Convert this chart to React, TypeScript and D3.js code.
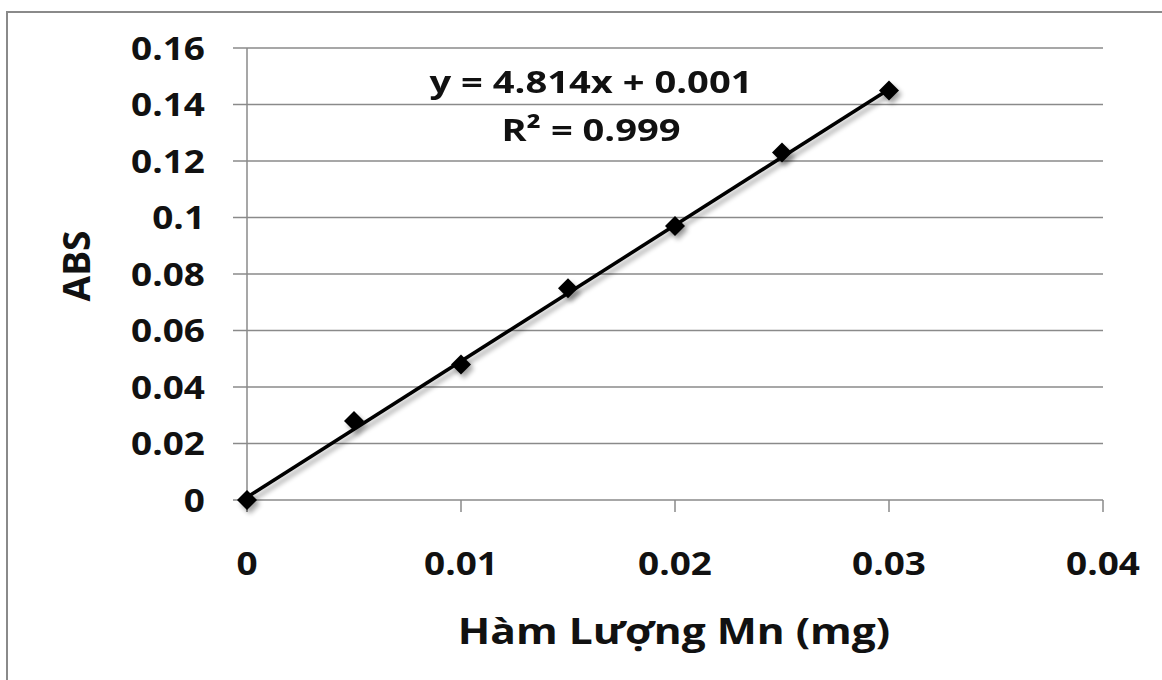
import * as d3 from 'd3';
import React, { useRef, useEffect } from 'react';

const massMn = [0, 0.005, 0.01, 0.015, 0.02, 0.025, 0.03];
const absValues = [0, 0.028, 0.048, 0.075, 0.097, 0.123, 0.145];
const xTicks = [0, 0.01, 0.02, 0.03, 0.04];
const yTicks = [0, 0.02, 0.04, 0.06, 0.08, 0.1, 0.12, 0.14, 0.16];
const slope = 4.814;
const intercept = 0.001;
const equationLines = ['y = 4.814x + 0.001', 'R² = 0.999'];
const xTitle = 'Hàm Lượng Mn (mg)';
const yTitle = 'ABS';

function App() {
    const ref = useRef(null);
    const width = 1162;
    const height = 680;

    useEffect(() => {
        const svg = d3.select(ref.current);
        svg.selectAll('*').remove();

        const font = '"Open Sans", sans-serif';
        const grid = '#8a8a8a';

        const x = d3.scaleLinear().domain([0, 0.04]).range([247, 1103]);
        const y = d3.scaleLinear().domain([0, 0.16]).range([500, 48]);
        const fmt = d3.format('~g');

        svg.append('rect')
            .attr('width', width).attr('height', height).attr('fill', 'white');

        // outer chart border (right/bottom fall outside the picture)
        svg.append('rect')
            .attr('x', 7).attr('y', 12)
            .attr('width', width + 20).attr('height', height + 20)
            .attr('fill', 'none').attr('stroke', grid).attr('stroke-width', 2);

        const defs = svg.append('defs');
        const f = defs.append('filter').attr('id', 'shadow')
            .attr('x', '-20%').attr('y', '-20%').attr('width', '140%').attr('height', '140%');
        f.append('feGaussianBlur').attr('in', 'SourceAlpha').attr('stdDeviation', 2.5);
        f.append('feOffset').attr('dx', 3).attr('dy', 4).attr('result', 'b');
        f.append('feComponentTransfer').append('feFuncA').attr('type', 'linear').attr('slope', 0.35);
        const m = f.append('feMerge');
        m.append('feMergeNode');
        m.append('feMergeNode').attr('in', 'SourceGraphic');

        // horizontal gridlines with left tick marks
        svg.append('g')
            .selectAll('line')
            .data(yTicks)
            .join('line')
            .attr('x1', x(0) - 14).attr('x2', x(0.04))
            .attr('y1', d => y(d)).attr('y2', d => y(d))
            .attr('stroke', grid).attr('stroke-width', 1.5);

        // y axis line
        svg.append('line')
            .attr('x1', x(0)).attr('x2', x(0))
            .attr('y1', y(0.16)).attr('y2', y(0) + 12)
            .attr('stroke', grid).attr('stroke-width', 1.5);

        // x tick marks
        svg.append('g')
            .selectAll('line')
            .data(xTicks)
            .join('line')
            .attr('x1', d => x(d)).attr('x2', d => x(d))
            .attr('y1', y(0)).attr('y2', y(0) + 12)
            .attr('stroke', grid).attr('stroke-width', 1.5);

        // y tick labels
        svg.append('g')
            .selectAll('text')
            .data(yTicks)
            .join('text')
            .attr('transform', d => `translate(205,${y(d)}) scale(1.12,1)`)
            .attr('dy', '0.35em')
            .attr('text-anchor', 'end')
            .attr('font-family', font).attr('font-weight', 700).attr('font-size', 33)
            .attr('fill', '#111')
            .text(d => fmt(d));

        // x tick labels
        svg.append('g')
            .selectAll('text')
            .data(xTicks)
            .join('text')
            .attr('transform', d => `translate(${x(d)},563) scale(1.12,1)`)
            .attr('dy', '0.35em')
            .attr('text-anchor', 'middle')
            .attr('font-family', font).attr('font-weight', 700).attr('font-size', 33)
            .attr('fill', '#111')
            .text(d => fmt(d));

        // axis titles
        svg.append('text')
            .attr('transform', 'translate(674,631) scale(1.18,1)')
            .attr('dy', '0.35em')
            .attr('text-anchor', 'middle')
            .attr('font-family', font).attr('font-weight', 700).attr('font-size', 36)
            .attr('fill', '#111')
            .text(xTitle);

        svg.append('text')
            .attr('transform', 'translate(77,266) rotate(-90)')
            .attr('dy', '0.35em')
            .attr('text-anchor', 'middle')
            .attr('font-family', font).attr('font-weight', 700).attr('font-size', 37)
            .attr('fill', '#111')
            .text(yTitle);

        // trendline
        const line = d3.line().x(d => x(d[0])).y(d => y(d[1]));
        const x0 = d3.min(massMn);
        const x1 = d3.max(massMn);
        svg.append('path')
            .attr('d', line([[x0, slope * x0 + intercept], [x1, slope * x1 + intercept]]))
            .attr('fill', 'none').attr('stroke', 'black').attr('stroke-width', 3.5)
            .attr('filter', 'url(#shadow)');

        // markers
        svg.append('g')
            .attr('filter', 'url(#shadow)')
            .selectAll('path')
            .data(massMn.map((v, i) => [v, absValues[i]]))
            .join('path')
            .attr('transform', d => `translate(${x(d[0])},${y(d[1])})`)
            .attr('d', 'M0,-10L10,0L0,10L-10,0Z')
            .attr('fill', 'black');

        // equation label
        svg.append('g')
            .selectAll('text')
            .data(equationLines)
            .join('text')
            .attr('transform', (d, i) => `translate(591,${82 + i * 48}) scale(1.23,1)`)
            .attr('dy', '0.35em')
            .attr('text-anchor', 'middle')
            .attr('font-family', font).attr('font-weight', 700).attr('font-size', 31)
            .attr('fill', '#111')
            .text(d => d);
    }, []);

    return (
        <svg ref={ref} width={width} height={height}
            style={{ position: 'absolute', left: 0, top: 0 }} />
    );
}

export default App;
